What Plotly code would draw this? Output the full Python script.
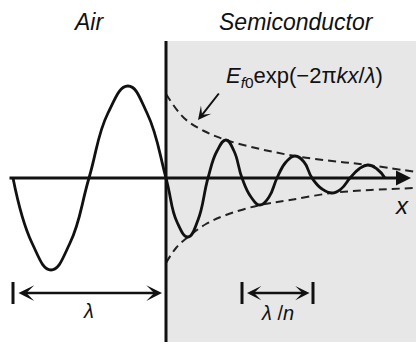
import plotly.graph_objects as go

# ---- data (units: px-like; x measured from the air/semiconductor interface, y from the x axis)
air_x = [-153, -134, -115, -96, -77, -58, -38, -19, 0]
air_y = [0, -65, -92, -65, 0, 65, 92, 65, 0]

semi_x = [0, 11, 22, 32, 42, 51, 60, 68, 76, 85, 94, 103, 111, 120, 129, 138, 146, 156, 166, 175, 184, 193, 202, 211, 219]
semi_y = [0, -44, -59, -42, 0, 27, 38, 27, 0, -19, -27, -19, 0, 16, 22, 16, 0, -11, -15, -11, 0, 9, 13, 9, 0]

env_up_x = [0, 18, 38, 60, 94, 129, 166, 202, 250]
env_up_y = [84, 60, 47, 38, 29, 22, 17, 13, 6]
env_lo_x = [0, 10, 22, 40, 60, 94, 124, 166, 205, 250]
env_lo_y = [-85, -70, -59, -46, -37, -27, -22, -15, -12, -10]

region_labels = ["Air", "Semiconductor"]
region_label_x = [-78, 130]
formula_label = "<i>E</i><sub><i>f</i>0</sub>exp(\u22122\u03c0<i>kx</i>/<i>\u03bb</i>)"
lambda_span = [-153, 0]        # air wavelength
lambda_n_span = [76, 147]      # wavelength in semiconductor
axis_span = [-158, 249]
interface_span = [-164, 137]

FONT = "Liberation Sans, Arial, sans-serif"
INK = "#111111"

fig = go.Figure()

fig.add_shape(type="rect", x0=0, x1=252, y0=interface_span[0], y1=interface_span[1],
              fillcolor="#e7e7e7", line_width=0, layer="below")

fig.add_trace(go.Scatter(x=env_up_x, y=env_up_y, mode="lines",
                         line=dict(color="#222", width=2, dash="8px,5px", shape="spline")))
fig.add_trace(go.Scatter(x=env_lo_x, y=env_lo_y, mode="lines",
                         line=dict(color="#222", width=2, dash="8px,5px", shape="spline")))
fig.add_trace(go.Scatter(x=air_x + semi_x[1:], y=air_y + semi_y[1:], mode="lines",
                         line=dict(color=INK, width=2.8, shape="spline", smoothing=1.3)))

# interface line
fig.add_shape(type="line", x0=0, x1=0, y0=interface_span[0], y1=interface_span[1],
              line=dict(color=INK, width=3), layer="above")

def arrow(x, y, ax, ay, width, size, head, both=False):
    fig.add_annotation(x=x, y=y, ax=ax, ay=ay, xref="x", yref="y", axref="x", ayref="y",
                       text="", showarrow=True, arrowhead=head, arrowsize=size,
                       arrowwidth=width, arrowcolor=INK, standoff=0, startstandoff=0,
                       arrowside="end+start" if both else "end",
                       startarrowhead=head, startarrowsize=size, font=dict(size=1))

# x axis with arrow
arrow(axis_span[1] - 4, 0, axis_span[0], 0, 3, 1.0, 2)

# lambda arrows
yb = -115
arrow(lambda_span[1] - 4, yb, lambda_span[0] + 4, yb, 2.5, 1.05, 3, both=True)
arrow(lambda_n_span[1] - 3.5, yb, lambda_n_span[0] + 3.5, yb, 2.5, 0.95, 3, both=True)
for xb in [lambda_span[0], lambda_n_span[0], lambda_n_span[1]]:
    fig.add_shape(type="line", x0=xb, x1=xb, y0=yb - 11, y1=yb + 11,
                  line=dict(color=INK, width=3))

# formula pointer arrow
arrow(32, 58, 54, 86, 2, 1.1, 3)

def label(text, x, y, size=22):
    fig.add_annotation(x=x, y=y, xref="x", yref="y", text=text, showarrow=False,
                       xanchor="center", yanchor="middle",
                       font=dict(family=FONT, size=size, color=INK))

for t, xp in zip(region_labels, region_label_x):
    label("<i>" + t + "</i>", xp, 156, 23)
label(formula_label, 138, 101, 22)
label("<i>x</i>", 236, -27, 24)
label("<i>\u03bb</i>", -78, -133, 20)
label("<i>\u03bb</i> /<i>n</i>", 111, -135, 20)

fig.update_layout(
    width=416, height=344, margin=dict(l=0, r=0, t=0, b=0),
    paper_bgcolor="white", plot_bgcolor="white", showlegend=False,
    xaxis=dict(range=[-166, 250], visible=False, fixedrange=True),
    yaxis=dict(range=[-166, 178], visible=False, fixedrange=True),
)

fig.write_html("out.html", config={"displayModeBar": False})
